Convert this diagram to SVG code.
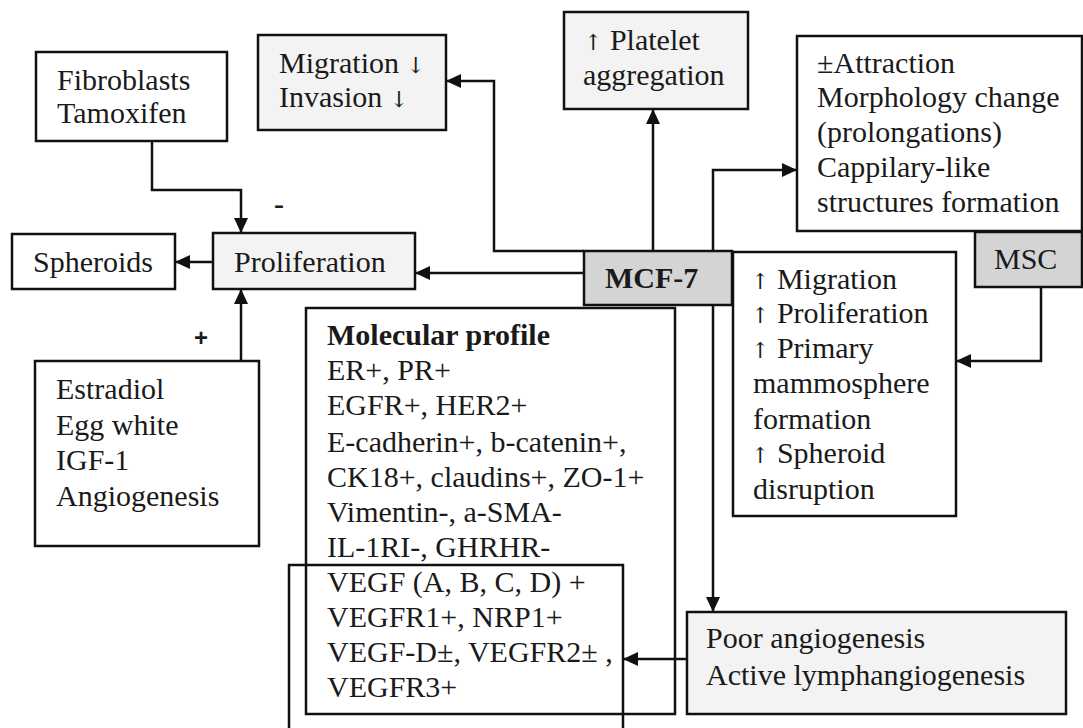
<svg xmlns="http://www.w3.org/2000/svg" width="1083" height="728" viewBox="0 0 1083 728">
<style>
.box{fill:#fff;stroke:#111;stroke-width:2.5}
.lt{fill:#f3f3f3;stroke:#111;stroke-width:2.5}
.dk{fill:#d4d4d4;stroke:#111;stroke-width:2.5}
.nf{fill:none;stroke:#111;stroke-width:2.5}
text{font-family:"Liberation Serif","Times New Roman",serif;font-size:30px;fill:#1a1a1a}
.ar{font-family:"DejaVu Serif","Liberation Serif",serif;font-size:22px}
.b{font-weight:bold}
.con{fill:none;stroke:#111;stroke-width:2.5;marker-end:url(#ah)}
</style>
<defs>
<marker id="ah" markerUnits="userSpaceOnUse" markerWidth="16" markerHeight="14" refX="14" refY="7" orient="auto">
<path d="M0,0 L15,7 L0,14 Z" fill="#111"/>
</marker>
</defs>
<rect width="1083" height="728" fill="#fff"/>
<text x="274" y="214" class="b">-</text>
<text x="194" y="346" class="b" style="font-family:'Liberation Sans',Arial,sans-serif;font-size:24px">+</text>
<g id="fibroblasts">
<rect class="box" x="36" y="52" width="191" height="89"/>
<text x="57" y="90">Fibroblasts</text>
<text x="57" y="123">Tamoxifen</text>
</g>
<g id="migration-invasion">
<rect class="lt" x="258" y="35" width="188" height="95"/>
<text x="279" y="73">Migration <tspan class="ar">↓</tspan></text>
<text x="279" y="107">Invasion <tspan class="ar">↓</tspan></text>
</g>
<g id="platelet">
<rect class="lt" x="564" y="12" width="184" height="97"/>
<text x="584" y="50"><tspan class="ar">↑</tspan> Platelet</text>
<text x="583" y="85">aggregation</text>
</g>
<g id="attraction">
<rect class="box" x="797" y="36" width="285" height="195"/>
<text x="817" y="73">±Attraction</text>
<text x="817" y="107">Morphology change</text>
<text x="817" y="142">(prolongations)</text>
<text x="817" y="177">Cappilary-like</text>
<text x="817" y="212">structures formation</text>
</g>
<g id="spheroids">
<rect class="box" x="12" y="234" width="163" height="55"/>
<text x="33" y="272">Spheroids</text>
</g>
<g id="proliferation">
<rect class="lt" x="213" y="233" width="202" height="56"/>
<text x="234" y="272">Proliferation</text>
</g>
<g id="mcf7">
<rect class="dk" x="584" y="251" width="148" height="54"/>
<text x="605" y="288" class="b">MCF-7</text>
</g>
<g id="msc">
<rect class="dk" x="975" y="232" width="107" height="55"/>
<text x="994" y="269">MSC</text>
</g>
<g id="msc-effects">
<rect class="box" x="733" y="252" width="223" height="264"/>
<text x="751" y="289"><tspan class="ar">↑</tspan> Migration</text>
<text x="751" y="323"><tspan class="ar">↑</tspan> Proliferation</text>
<text x="751" y="358"><tspan class="ar">↑</tspan> Primary</text>
<text x="753" y="393">mammosphere</text>
<text x="753" y="429">formation</text>
<text x="751" y="463"><tspan class="ar">↑</tspan> Spheroid</text>
<text x="753" y="499">disruption</text>
</g>
<g id="estradiol">
<rect class="box" x="35" y="361" width="224" height="185"/>
<text x="56" y="399">Estradiol</text>
<text x="56" y="435">Egg white</text>
<text x="56" y="470">IGF-1</text>
<text x="56" y="506">Angiogenesis</text>
</g>
<g id="molecular-profile">
<rect class="box" x="306" y="308" width="369" height="406"/>
<text x="327" y="345" class="b">Molecular profile</text>
<text x="327" y="380">ER+, PR+</text>
<text x="327" y="415">EGFR+, HER2+</text>
<text x="327" y="452">E-cadherin+, b-catenin+,</text>
<text x="327" y="487">CK18+, claudins+, ZO-1+</text>
<text x="327" y="522">Vimentin-, a-SMA-</text>
<text x="327" y="557">IL-1RI-, GHRHR-</text>
<text x="327" y="592">VEGF (A, B, C, D) +</text>
<text x="327" y="627">VEGFR1+, NRP1+</text>
<text x="327" y="662">VEGF-D±, VEGFR2± ,</text>
<text x="327" y="697">VEGFR3+</text>
</g>
<g id="vegf-group">
<path class="nf" d="M289,732 V565 H623 V732"/>
</g>
<g id="poor-angiogenesis">
<rect class="lt" x="687" y="612" width="379" height="102"/>
<text x="706" y="648">Poor angiogenesis</text>
<text x="706" y="685">Active lymphangiogenesis</text>
</g>
<g id="connectors">
<path class="con" d="M152,141 V190 H241 V232"/>
<path class="con" d="M213,262 H176"/>
<path class="con" d="M584,273 H416"/>
<path class="con" d="M584,251 H494 V81 H447"/>
<path class="con" d="M653,251 V110"/>
<path class="con" d="M713,251 V170 H796"/>
<path class="con" d="M1041,287 V361 H957"/>
<path class="con" d="M713,305 V611"/>
<path class="con" d="M687,659 H624"/>
<path class="con" d="M241,361 V290"/>
</g>
</svg>
